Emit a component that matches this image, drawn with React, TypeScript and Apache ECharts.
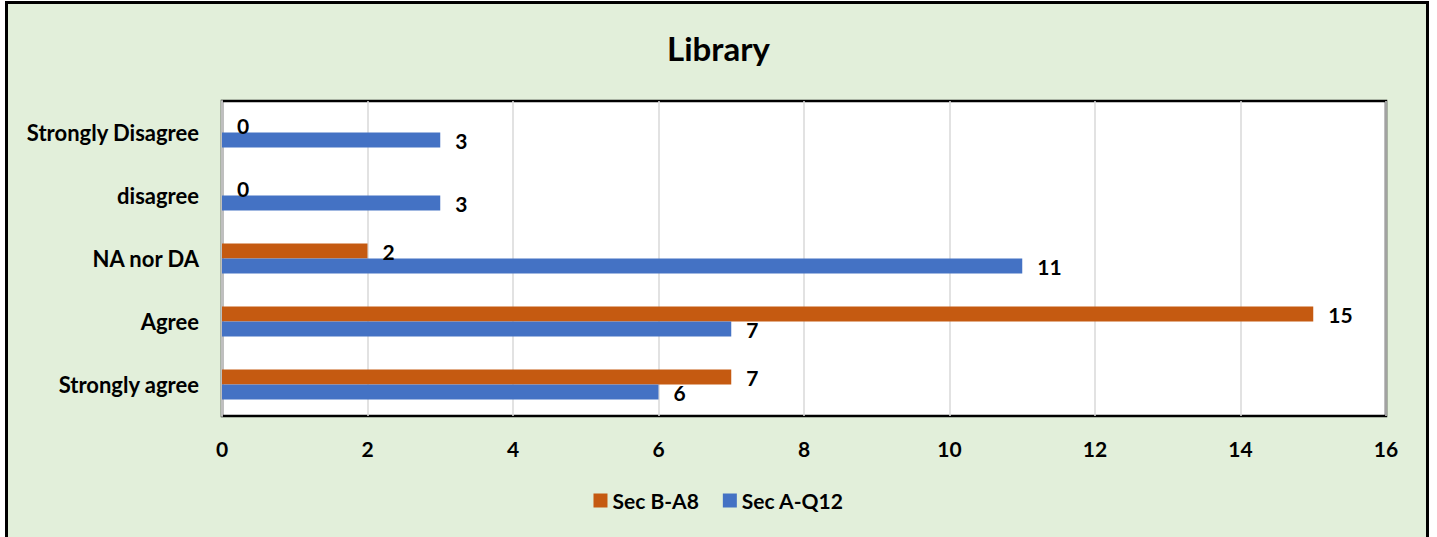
import React, { useEffect, useRef } from "react";
import * as echarts from "echarts";

const categories = ["Strongly agree", "Agree", "NA nor DA", "disagree", "Strongly Disagree"];
const secB_A8 = [7, 15, 2, 0, 0];
const secA_Q12 = [6, 7, 11, 3, 3];
const xTicks = { min: 0, max: 16, interval: 2 };

const FONT = "Lato";

export default function App() {
  const ref = useRef<HTMLDivElement>(null);
  useEffect(() => {
    if (!ref.current) return;
    const chart = echarts.init(ref.current, undefined, { renderer: "svg" });
    const labelStyle = {
      show: true,
      position: "right" as const,
      distance: 15,
      color: "#000",
      fontFamily: FONT,
      fontWeight: "bold" as const,
      fontSize: 21,
    };
    chart.setOption({
      animation: false,
      backgroundColor: "#ffffff",
      graphic: [
        {
          type: "rect",
          z: -10,
          silent: true,
          shape: { x: 6.5, y: 2.5, width: 1421, height: 560 },
          style: { fill: "#E2EFDA", stroke: "#000", lineWidth: 3 },
        },
      ],
      title: {
        text: "Library",
        left: "center",
        top: 26,
        textStyle: { fontFamily: FONT, fontWeight: "bold", fontSize: 33, color: "#000" },
      },
      legend: {
        bottom: 21,
        left: "center",
        data: ["Sec B-A8", "Sec A-Q12"],
        itemWidth: 14,
        itemHeight: 14,
        itemGap: 24,
        icon: "rect",
        textStyle: { fontFamily: FONT, fontWeight: "bold", fontSize: 21, color: "#000" },
      },
      grid: {
        left: 222,
        top: 101,
        right: 51,
        bottom: 121,
        show: true,
        backgroundColor: "#ffffff",
        borderColor: "#000",
        borderWidth: 2.5,
        containLabel: false,
      },
      xAxis: {
        type: "value",
        min: xTicks.min,
        max: xTicks.max,
        interval: xTicks.interval,
        axisLine: { show: false },
        axisTick: { show: false },
        splitLine: { show: true, lineStyle: { color: "#d9d9d9", width: 1.5 } },
        axisLabel: {
          margin: 22,
          color: "#000",
          fontFamily: FONT,
          fontWeight: "bold",
          fontSize: 21,
        },
      },
      yAxis: {
        type: "category",
        data: categories,
        axisLine: { show: true, lineStyle: { color: "#bfbfbf", width: 2 } },
        axisTick: { show: false },
        axisLabel: {
          margin: 23,
          color: "#000",
          fontFamily: FONT,
          fontWeight: "bold",
          fontSize: 22,
        },
      },
      series: [
        {
          name: "Sec B-A8",
          type: "bar",
          data: secB_A8,
          barWidth: 15,
          barGap: "0%",
          itemStyle: { color: "#C55A11" },
          label: labelStyle,
        },
        {
          name: "Sec A-Q12",
          type: "bar",
          data: secA_Q12,
          barWidth: 15,
          barGap: "0%",
          itemStyle: { color: "#4472C4" },
          label: labelStyle,
        },
      ],
    });
    return () => chart.dispose();
  }, []);
  return (
    <div
      ref={ref}
      style={{ position: "fixed", left: 0, top: 0, width: 1437, height: 537 }}
    />
  );
}
